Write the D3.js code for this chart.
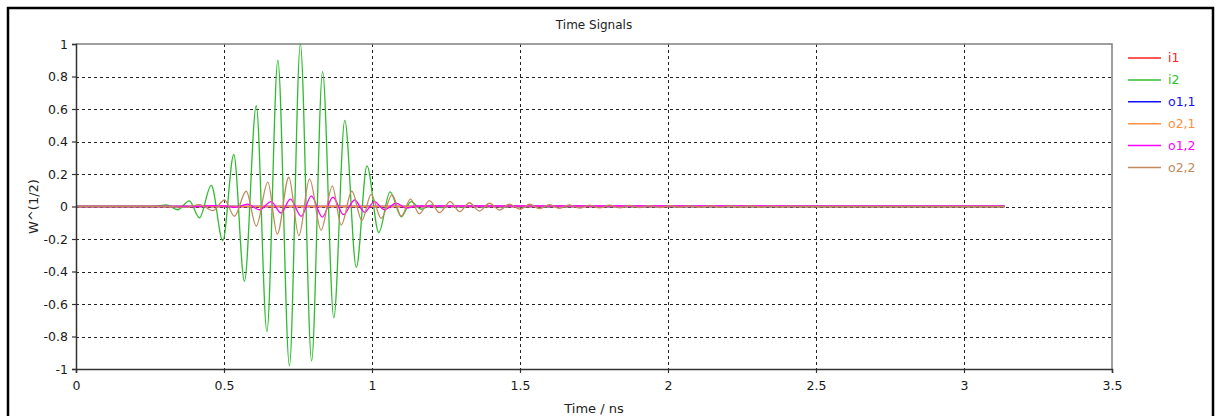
<!DOCTYPE html>
<meta charset="utf-8">
<head>
<script src="https://cdnjs.cloudflare.com/ajax/libs/d3/7.8.5/d3.min.js"></script>
<style>
body { margin:0; background:#fff; }
svg text { font-family: "DejaVu Sans", Verdana, sans-serif; }
</style>
</head>
<body>
<div id="chart"></div>
<script>

var i1 = [[0, 0], [3.137, 0]];
var o11 = [[0, 0], [3.137, 0]];
var o21 = [[0, 0], [3.137, 0]];

var i2 = [[0, 0], [0.215, 0], [0.265, 0], [0.306, 0.01], [0.343, -0.02], [0.383, 0.035],
  [0.417, -0.07], [0.457, 0.13], [0.496, -0.21], [0.533, 0.32], [0.569, -0.46],
  [0.609, 0.62], [0.645, -0.77], [0.682, 0.90], [0.721, -0.98], [0.758, 1.0],
  [0.796, -0.95], [0.833, 0.83], [0.871, -0.685], [0.908, 0.53], [0.947, -0.375],
  [0.983, 0.25], [1.023, -0.16], [1.061, 0.09], [1.099, -0.063], [1.132, 0.03],
  [1.166, -0.017], [1.200, 0.008], [1.235, -0.007], [1.270, 0.006], [1.305, -0.005],
  [1.340, 0.005], [1.375, -0.004], [1.410, 0.004], [1.445, -0.004], [1.480, 0.003],
  [1.515, -0.003], [1.550, 0.003], [1.585, -0.003], [1.620, 0.003], [1.655, -0.002],
  [1.690, 0.002], [1.80, 0], [3.137, 0]];

var o12 = [[0, 0], [0.40, 0], [0.46, 0.005], [0.50, 0.004], [0.539, -0.005], [0.580, 0.015],
  [0.620, -0.02], [0.659, 0.03], [0.693, -0.04], [0.724, 0.045], [0.761, -0.06],
  [0.795, 0.065], [0.832, -0.065], [0.868, 0.057], [0.904, -0.05], [0.941, 0.04],
  [0.975, -0.035], [1.008, 0.03], [1.042, -0.02], [1.082, 0.02], [1.117, -0.01],
  [1.150, 0.003], [3.137, 0.003]];

var o22 = [[0, 0], [0.30, 0], [0.376, -0.005], [0.417, 0.012], [0.462, -0.025], [0.502, 0.04],
  [0.535, -0.06], [0.575, 0.094], [0.609, -0.12], [0.648, 0.15], [0.680, -0.17],
  [0.719, 0.18], [0.753, -0.18], [0.789, 0.17], [0.828, -0.145], [0.866, 0.126],
  [0.896, -0.114], [0.932, 0.094], [0.966, -0.087], [0.997, 0.075], [1.031, -0.073],
  [1.068, 0.071], [1.099, -0.06], [1.130, 0.045], [1.160, -0.045], [1.194, 0.036],
  [1.228, -0.038], [1.264, 0.03], [1.296, -0.032], [1.329, 0.023], [1.363, -0.028],
  [1.397, 0.02], [1.431, -0.022], [1.464, 0.015], [1.501, -0.017], [1.532, 0.014],
  [1.566, -0.013], [1.600, 0.011], [1.633, -0.011], [1.667, 0.010], [1.701, -0.010],
  [1.735, 0.009], [1.769, -0.009], [1.802, 0.008], [1.836, -0.008], [1.870, 0.007],
  [1.904, -0.007], [1.938, 0.006], [1.972, -0.006], [2.006, 0.005], [2.040, -0.005],
  [2.074, 0.004], [2.108, -0.004], [2.142, 0.004], [2.176, -0.004], [2.210, 0.003],
  [2.244, -0.003], [2.278, 0.003], [2.312, -0.003], [2.346, 0.002], [2.380, -0.002],
  [2.414, 0.002], [2.45, 0], [3.137, 0]];

var seriesNames = ['i1', 'i2', 'o1,1', 'o2,1', 'o1,2', 'o2,2'];
var seriesData = [i1, i2, o11, o21, o12, o22];
var seriesColors = ['#ff2020', '#30bc30', '#1010ff', '#ff9040', '#ff00ff', '#c08a5c'];

var xTicks = [0, 0.5, 1, 1.5, 2, 2.5, 3, 3.5];
var xTickLabels = ['0', '0.5', '1', '1.5', '2', '2.5', '3', '3.5'];
var yTicks = [-1, -0.8, -0.6, -0.4, -0.2, 0, 0.2, 0.4, 0.6, 0.8, 1];
var yTickLabels = ['-1', '-0.8', '-0.6', '-0.4', '-0.2', '0', '0.2', '0.4', '0.6', '0.8', '1'];

(function(){
var width = 1217;
var height = 416;
var pLeft = 76, pRight = 1112, pTop = 44, pBottom = 369;

var svg = d3.select('#chart').append('svg')
  .attr('width', width)
  .attr('height', height);

// outer frame
svg.append('rect')
  .attr('x', 8).attr('y', 8)
  .attr('width', 1205).attr('height', 430)
  .attr('fill', 'none')
  .attr('stroke', '#000')
  .attr('stroke-width', 2.5);

var x = d3.scaleLinear().domain([0, 3.5]).range([pLeft, pRight]);
var y = d3.scaleLinear().domain([-1, 1]).range([pBottom, pTop]);

// grid
svg.append('g').selectAll('line')
  .data(xTicks.slice(1, -1))
  .enter().append('line')
  .attr('x1', function(d){ return Math.round(x(d)) + 0.5; })
  .attr('x2', function(d){ return Math.round(x(d)) + 0.5; })
  .attr('y1', pTop).attr('y2', pBottom)
  .attr('stroke', '#222').attr('stroke-width', 1)
  .attr('stroke-dasharray', '3,3');

svg.append('g').selectAll('line')
  .data(yTicks.slice(1, -1))
  .enter().append('line')
  .attr('y1', function(d){ return Math.round(y(d)) + 0.5; })
  .attr('y2', function(d){ return Math.round(y(d)) + 0.5; })
  .attr('x1', pLeft).attr('x2', pRight)
  .attr('stroke', '#222').attr('stroke-width', 1)
  .attr('stroke-dasharray', '3,3');

// top and right border of plot
svg.append('path')
  .attr('d', 'M' + pLeft + ',' + pTop + 'H' + pRight + 'V' + pBottom)
  .attr('fill', 'none')
  .attr('stroke', '#808080')
  .attr('stroke-width', 1.5);

// signals
var line = d3.line()
  .x(function(d){ return x(d[0]); })
  .y(function(d){ return y(d[1]); })
  .curve(d3.curveMonotoneX);

svg.append('g').selectAll('path')
  .data(seriesData)
  .enter().append('path')
  .attr('d', line)
  .attr('fill', 'none')
  .attr('stroke', function(d, i){ return seriesColors[i]; })
  .attr('stroke-width', 1.3);

// axes
var xAxis = d3.axisBottom(x)
  .tickValues(xTicks)
  .tickFormat(function(d, i){ return xTickLabels[i]; })
  .tickSize(4)
  .tickPadding(8);

var yAxis = d3.axisLeft(y)
  .tickValues(yTicks)
  .tickFormat(function(d, i){ return yTickLabels[i]; })
  .tickSize(4)
  .tickPadding(4);

var gx = svg.append('g')
  .attr('transform', 'translate(0,' + pBottom + ')')
  .call(xAxis);
var gy = svg.append('g')
  .attr('transform', 'translate(' + pLeft + ',0)')
  .call(yAxis);

[gx, gy].forEach(function(g){
  g.select('.domain').attr('stroke', '#333').attr('stroke-width', 1.5);
  g.selectAll('.tick line').attr('stroke', '#333').attr('stroke-width', 1.2);
  g.selectAll('.tick text')
    .attr('fill', '#1a1a1a')
    .style('font-size', '12.5px')
    .style('font-family', '"DejaVu Sans", Verdana, sans-serif');
});

// titles
svg.append('text')
  .attr('x', (pLeft + pRight) / 2).attr('y', 29)
  .attr('text-anchor', 'middle')
  .style('font-size', '12px')
  .attr('fill', '#222')
  .text('Time Signals');

svg.append('text')
  .attr('x', (pLeft + pRight) / 2).attr('y', 413)
  .attr('text-anchor', 'middle')
  .style('font-size', '13px')
  .attr('fill', '#222')
  .text('Time / ns');

svg.append('text')
  .attr('transform', 'translate(38,' + (pTop + pBottom) / 2 + ') rotate(-90)')
  .attr('text-anchor', 'middle')
  .style('font-size', '13px')
  .attr('fill', '#222')
  .text('W^(1/2)');

// legend
var legend = svg.append('g').selectAll('g')
  .data(seriesNames)
  .enter().append('g')
  .attr('transform', function(d, i){ return 'translate(1128,' + (58 + i * 21.9) + ')'; });

legend.append('line')
  .attr('x1', 0).attr('x2', 33)
  .attr('stroke', function(d, i){ return seriesColors[i]; })
  .attr('stroke-width', 1.5);

legend.append('text')
  .attr('x', 40)
  .attr('dy', '0.35em')
  .style('font-size', '12.5px')
  .attr('fill', function(d, i){ return seriesColors[i]; })
  .text(function(d){ return d; });
})();

</script>
</body>
